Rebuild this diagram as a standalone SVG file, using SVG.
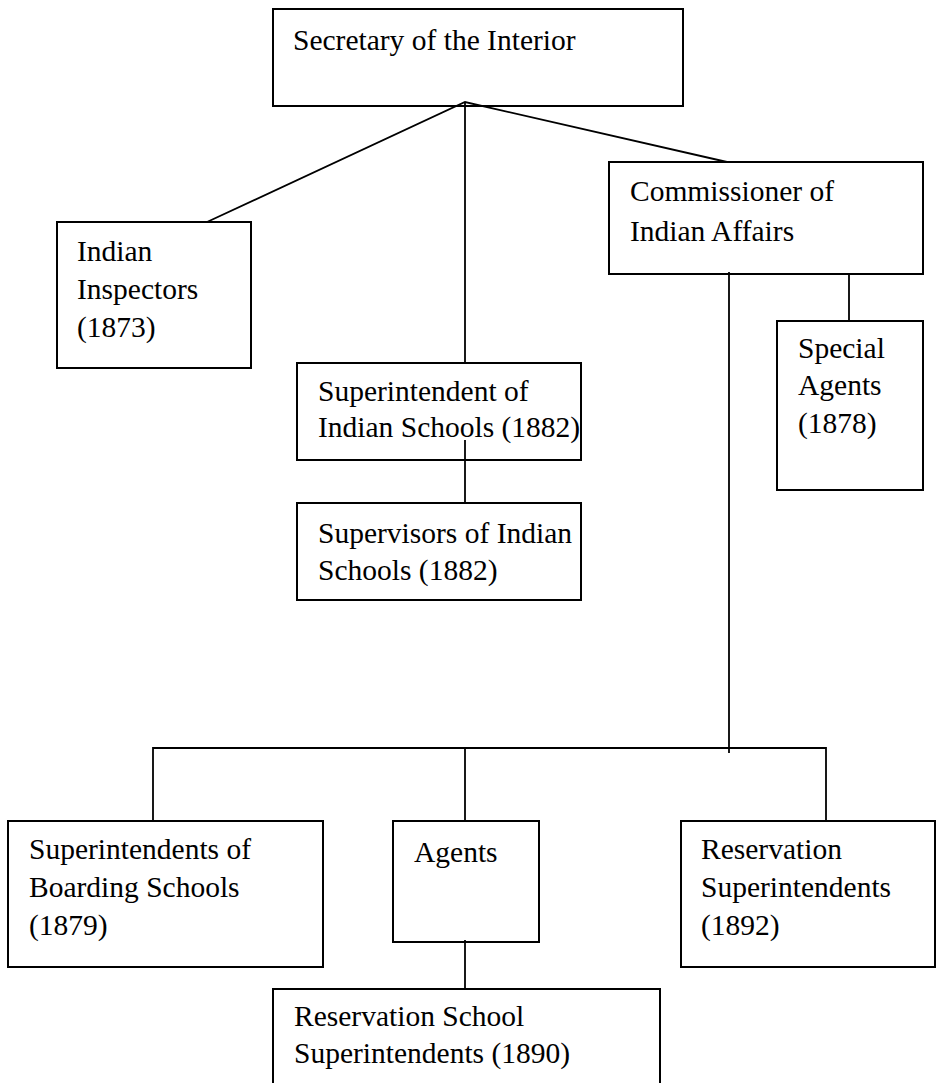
<svg xmlns="http://www.w3.org/2000/svg" width="936" height="1083" viewBox="0 0 936 1083">
<style>
.box{fill:#fff;stroke:#000;stroke-width:2}
.t{font-size:29.5px;fill:#000}
.c{fill:none;stroke:#000;stroke-width:1.8}
</style>
<rect width="936" height="1083" fill="#fff"/>
<g font-family="Liberation Serif, Times New Roman, serif">
<g id="secretary">
<rect class="box" x="273" y="9" width="410" height="97"/>
<text class="t" x="293" y="50">Secretary of the Interior</text>
</g>
<g id="inspectors">
<rect class="box" x="57" y="222" width="194" height="146"/>
<text class="t" x="77" y="261">Indian</text>
<text class="t" x="77" y="299">Inspectors</text>
<text class="t" x="77" y="337">(1873)</text>
</g>
<g id="commissioner">
<rect class="box" x="609" y="162" width="314" height="112"/>
<text class="t" x="630" y="201">Commissioner of</text>
<text class="t" x="630" y="241">Indian Affairs</text>
</g>
<g id="special-agents">
<rect class="box" x="777" y="321" width="146" height="169"/>
<text class="t" x="798" y="358">Special</text>
<text class="t" x="798" y="395">Agents</text>
<text class="t" x="798" y="433">(1878)</text>
</g>
<g id="superintendent-schools">
<rect class="box" x="297" y="363" width="284" height="97"/>
<text class="t" x="318" y="401">Superintendent of</text>
<text class="t" x="318" y="437">Indian Schools (1882)</text>
</g>
<g id="supervisors">
<rect class="box" x="297" y="503" width="284" height="97"/>
<text class="t" x="318" y="543">Supervisors of Indian</text>
<text class="t" x="318" y="580">Schools (1882)</text>
</g>
<g id="boarding">
<rect class="box" x="8" y="821" width="315" height="146"/>
<text class="t" x="29" y="859">Superintendents of</text>
<text class="t" x="29" y="897">Boarding Schools</text>
<text class="t" x="29" y="935">(1879)</text>
</g>
<g id="agents">
<rect class="box" x="393" y="821" width="146" height="121"/>
<text class="t" x="414" y="862">Agents</text>
</g>
<g id="reservation-superintendents">
<rect class="box" x="681" y="821" width="254" height="146"/>
<text class="t" x="701" y="859">Reservation</text>
<text class="t" x="701" y="897">Superintendents</text>
<text class="t" x="701" y="935">(1892)</text>
</g>
<g id="reservation-school">
<rect class="box" x="273" y="989" width="387" height="110"/>
<text class="t" x="294" y="1026">Reservation School</text>
<text class="t" x="294" y="1063">Superintendents (1890)</text>
</g>
</g>
<g id="connectors">
<polyline class="c" points="207,222 465,102 727,162"/>
<line class="c" x1="465" y1="102" x2="465" y2="363"/>
<line class="c" x1="465" y1="440" x2="465" y2="503"/>
<line class="c" x1="849" y1="274" x2="849" y2="321"/>
<line class="c" x1="729" y1="272" x2="729" y2="753"/>
<polyline class="c" points="153,821 153,748 826,748 826,821"/>
<line class="c" x1="465" y1="748" x2="465" y2="821"/>
<line class="c" x1="465" y1="940" x2="465" y2="989"/>
</g>
</svg>
